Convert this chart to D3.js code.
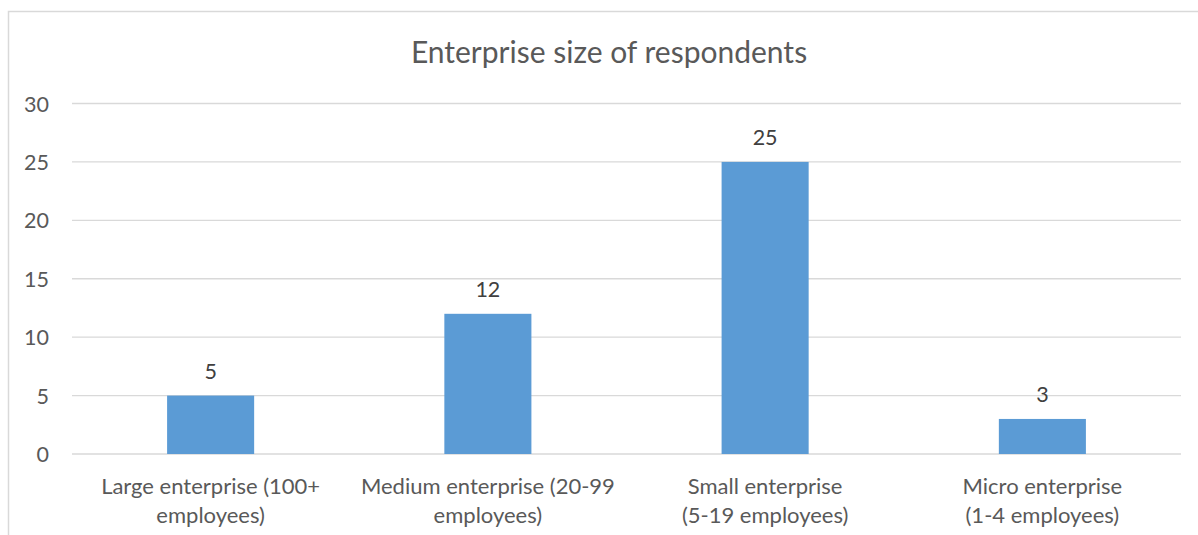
<!DOCTYPE html>
<html><head><meta charset="utf-8">
<script src="https://cdn.jsdelivr.net/npm/d3@7"></script>
<style>html,body{margin:0;padding:0;background:#fff;}svg{display:block;}</style>
</head><body>
<svg id="chart" width="1198" height="535"></svg>
<script>
const categories = [
  ["Large enterprise (100+", "employees)"],
  ["Medium enterprise (20-99", "employees)"],
  ["Small enterprise", "(5-19 employees)"],
  ["Micro enterprise", "(1-4 employees)"]
];
const values = [5, 12, 25, 3];
const yTicks = [0, 5, 10, 15, 20, 25, 30];
const title = "Enterprise size of respondents";

(function() {
const FONT = "Lato, 'Open Sans', sans-serif";
const svg = d3.select("#chart");

// chart border
svg.append("rect").attr("x", 8.5).attr("y", 11.5).attr("width", 1300).attr("height", 600)
  .attr("fill", "none").attr("stroke", "#D9D9D9").attr("stroke-width", 1.5);

const pLeft = 72, pRight = 1181, pTop = 103.5, pBottom = 454;
const x = d3.scaleBand().domain(d3.range(categories.length)).range([pLeft, pRight])
  .paddingInner(0.686).paddingOuter(0.343);
const y = d3.scaleLinear().domain([0, 30]).range([pBottom, pTop]);

// gridlines
svg.append("g").selectAll("line").data(yTicks).join("line")
  .attr("x1", pLeft).attr("x2", pRight)
  .attr("y1", d => y(d)).attr("y2", d => y(d))
  .attr("stroke", "#D9D9D9").attr("stroke-width", 1.3);

// y axis labels
const yAxis = d3.axisLeft(y).tickValues(yTicks).tickSize(0).tickPadding(0);
const gy = svg.append("g").attr("transform", `translate(49,0)`).call(yAxis);
gy.select(".domain").remove();
gy.selectAll("text").attr("font-family", FONT).attr("font-size", 21.5).attr("fill", "#595959").attr("dy", "0.35em");

// bars
svg.append("g").selectAll("rect").data(values).join("rect")
  .attr("x", (d, i) => x(i)).attr("width", x.bandwidth())
  .attr("y", d => y(d)).attr("height", d => y(0) - y(d))
  .attr("fill", "#5B9BD5");

// data labels
svg.append("g").selectAll("text").data(values).join("text")
  .attr("x", (d, i) => x(i) + x.bandwidth() / 2)
  .attr("y", d => y(d) - 24.5).attr("dy", "0.35em")
  .attr("text-anchor", "middle").attr("font-family", FONT).attr("font-size", 21.5)
  .attr("fill", "#404040").text(d => d);

// category labels
const cg = svg.append("g").selectAll("text").data(categories).join("text")
  .attr("text-anchor", "middle").attr("font-family", FONT).attr("font-size", 22)
  .attr("fill", "#595959");
cg.each(function(d, i) {
  const t = d3.select(this);
  d.forEach((line, j) => {
    t.append("tspan").attr("x", x(i) + x.bandwidth() / 2).attr("y", 486 + j * 29.5)
      .attr("dy", "0.35em").text(line);
  });
});

// title
svg.append("text").attr("x", 609).attr("y", 52).attr("dy", "0.35em")
  .attr("text-anchor", "middle").attr("font-family", FONT).attr("font-size", 30)
  .attr("fill", "#595959").text(title);
})();
</script>
</body></html>
